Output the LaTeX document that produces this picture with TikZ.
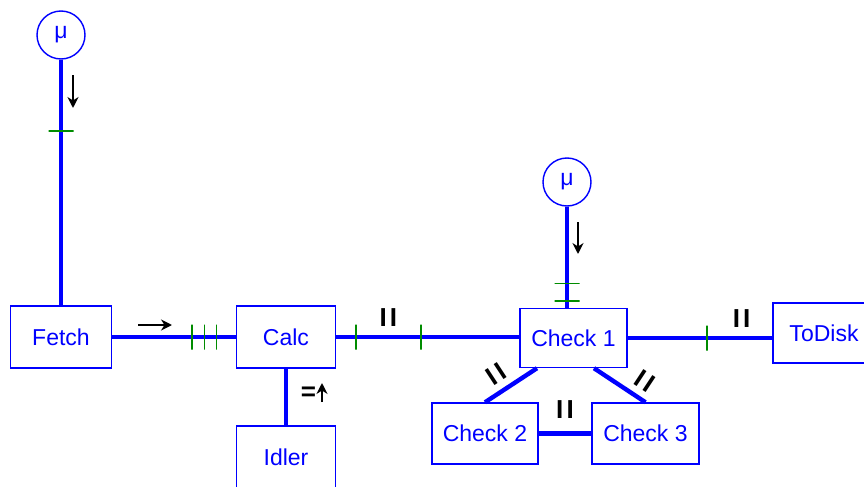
\documentclass[tikz,border=0pt]{standalone}
\usepackage{fontspec}
\setmainfont{Liberation Sans}
\usetikzlibrary{arrows.meta}
\definecolor{wblue}{RGB}{0,0,255}
\definecolor{tgreen}{RGB}{0,140,0}
\tikzset{
  proc/.style={draw=wblue,line width=0.7pt,text=wblue,inner sep=0pt,minimum height=31pt},
  src/.style={circle,draw=wblue,line width=0.7pt,text=wblue,minimum size=24pt,inner sep=0pt},
  wire/.style={draw=wblue,line width=2.2pt},
  tick/.style={draw=tgreen,line width=0.8pt,inner sep=0pt,minimum width=0pt,minimum height=12.5pt,sloped},
  par/.style={text=black,inner sep=0pt,font=\fontsize{13}{14}\selectfont\bfseries},
  flow/.style={-{Stealth[length=5.5pt,width=5.5pt]},line width=1.4pt}
}
\newcommand{\parmark}{I\kern1.6pt I}

\begin{document}
\begin{tikzpicture}[x=0.5pt,y=-0.5pt,font=\fontsize{11.5}{13}\selectfont]
    \useasboundingbox (0,0) rectangle (864,487);
    \clip (0,0) rectangle (864,487);
    % sources
    \node[src] (mu1) at (61,35) {μ};
    \node[src] (mu2) at (567,182) {μ};
    % processes
    \node[proc,minimum width=50.5pt] (Fetch) at (61,337) {Fetch};
    \node[proc,minimum width=49.5pt] (Calc) at (286,337) {Calc};
    \node[proc,minimum width=49.5pt] (Idler) at (286,457) {Idler};
    \node[proc,minimum width=53.5pt,minimum height=29.5pt] (Check1) at (573.5,338) {Check 1};
    \node[proc,minimum width=53pt,minimum height=30.5pt] (Check2) at (485,433.5) {Check 2};
    \node[proc,minimum width=53.5pt,minimum height=30.5pt] (Check3) at (645.5,433.5) {Check 3};
    \node[proc,minimum width=51pt,minimum height=30pt] (ToDisk) at (824,333) {ToDisk};
    % channels
    \draw[wire] (mu1) -- (Fetch) node[tick,pos=0.29] {};
    \draw[wire] (mu2) -- (mu2 |- Check1.north) node[tick,pos=0.76] {} node[tick,pos=0.93] {};
    \draw[wire] (Fetch) -- (Calc) node[tick,pos=0.648] {} node[tick,pos=0.746] {} node[tick,pos=0.844] {};
    \draw[wire] (Calc) -- (Calc -| Check1.west) node[tick,pos=0.108] {} node[tick,pos=0.462] {}
        node[par,above=4pt,pos=0.285] {\parmark};
    \draw[wire] (Check1.east) -- (Check1.east -| ToDisk.west) node[tick,pos=0.548] {}
        node[par,above=4pt,pos=0.788] {\parmark};
    \draw[wire] (Calc) -- (Idler);
    \node[par] (idlab) at (308.5,394) {=};
    \draw[wire] ([xshift=-18.25pt]Check1.south) -- (Check2.north) node[par,sloped,above=3pt,pos=0.6] {\parmark};
    \draw[wire] ([xshift=10.25pt]Check1.south) -- (Check3.north) node[par,sloped,above=3pt,pos=0.8] {\parmark};
    \draw[wire] (Check2) -- (Check3) node[par,above=6.5pt,midway] {\parmark};
    % directions
    \draw[flow] (73,75) -- (73,108);
    \draw[flow] (578,222) -- (578,254);
    \draw[flow] (138,325) -- (172,325);
    \draw[flow] (322,402) -- (322,383);
\end{tikzpicture}
\end{document}
